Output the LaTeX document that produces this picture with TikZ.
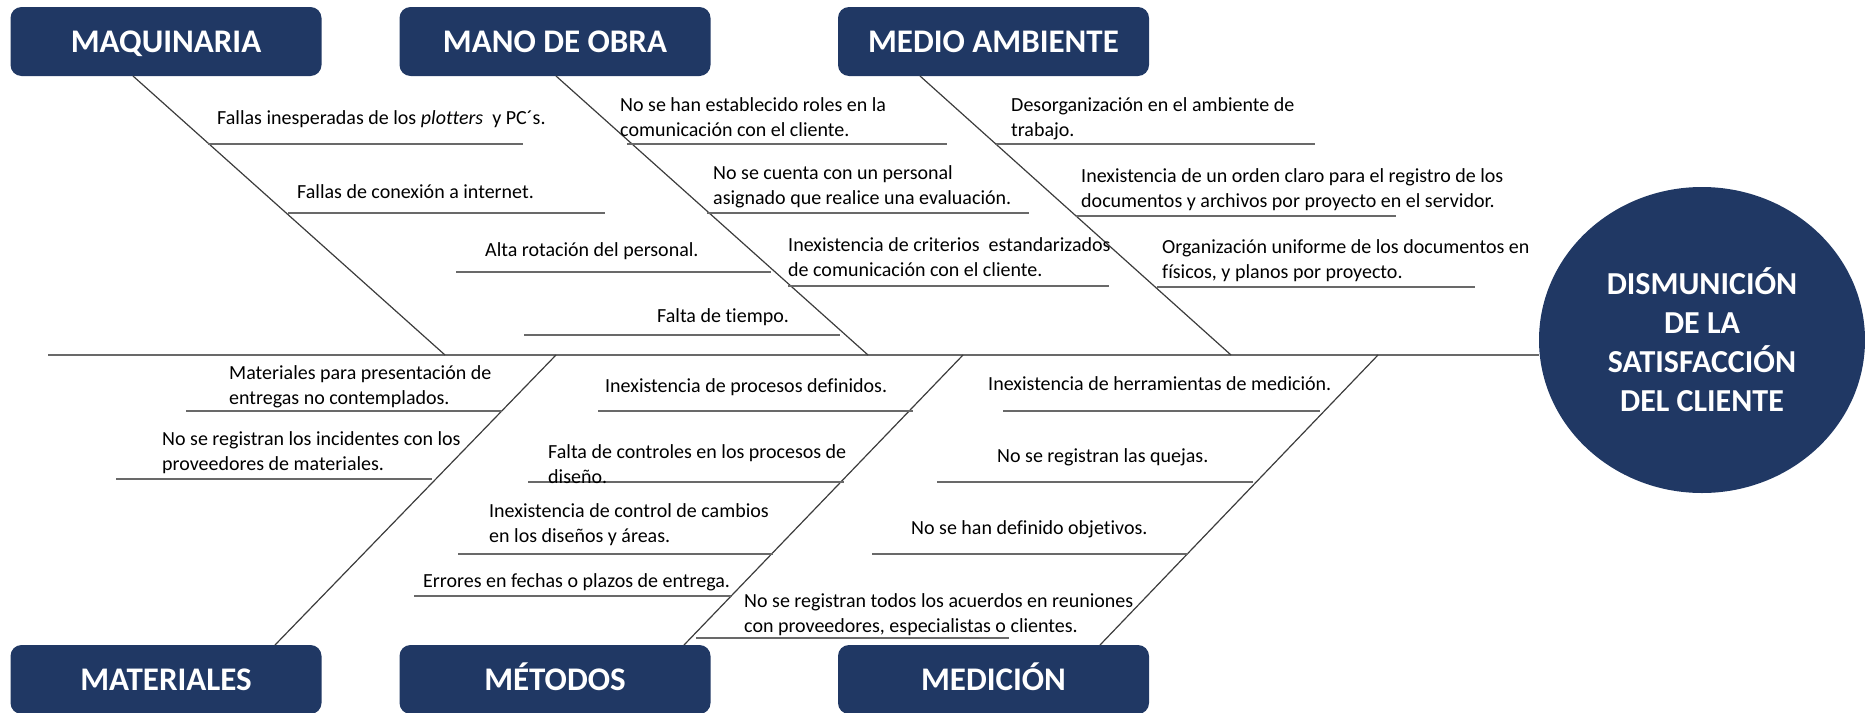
\documentclass[tikz,border=0pt]{standalone}
\usepackage{fontspec}
\setmainfont{Carlito}[Ligatures=NoCommon]
\usepackage{tikz}
\usetikzlibrary{shapes.geometric}
\definecolor{navy}{RGB}{32,56,100}
\definecolor{bonegray}{RGB}{60,60,60}
\definecolor{ribgray}{RGB}{105,105,105}
\tikzstyle{category} = [rectangle, rounded corners=11pt, fill=navy, text=white, minimum width=311pt, minimum height=69pt, inner sep=0pt, text height=21pt, text depth=0pt, font=\fontsize{33}{38}\selectfont\bfseries]
\tikzstyle{effect} = [ellipse, fill=navy, text=white, minimum width=326pt, minimum height=306pt, inner sep=0pt, align=center, font=\fontsize{32}{39}\selectfont\bfseries]
\tikzstyle{cause} = [anchor=west, inner sep=0pt, align=left, font=\fontsize{20}{25}\selectfont]
\tikzstyle{spine} = [line width=2pt, draw=ribgray]
\tikzstyle{bone} = [line width=1.2pt, draw=bonegray]
\tikzstyle{ribline} = [line width=2pt, draw=ribgray]

\begin{document}
\begin{tikzpicture}[x=1pt, y=-1pt]
        \useasboundingbox (0,0) rectangle (1865,712);
        % Categories
        \node[category] (maq) at (166,41.5) {MAQUINARIA};
        \node[category] (mano) at (555,41.5) {MANO DE OBRA};
        \node[category] (medio) at (993.5,41.5) {MEDIO AMBIENTE};
        \node[category] (mat) at (166,679.5) {MATERIALES};
        \node[category] (met) at (555,679.5) {MÉTODOS};
        \node[category] (med) at (993.5,679.5) {MEDICIÓN};
        % Effect
        \node[effect] (efecto) at (1702,340) {DISMUNICIÓN\\DE LA\\SATISFACCIÓN\\DEL CLIENTE};
        % Spine and bones
        \coordinate (cola) at (48,355);
        \coordinate (maqtop) at (133,76);
        \coordinate (manotop) at (556,76);
        \coordinate (mediotop) at (920,76);
        \coordinate (mattop) at (275,645);
        \coordinate (mettop) at (684,645);
        \coordinate (medtop) at (1100,645);
        \coordinate (maqend) at (445,355);
        \coordinate (manoend) at (868,355);
        \coordinate (medioend) at (1231,355);
        \coordinate (matend) at (556,355);
        \coordinate (metend) at (963,355);
        \coordinate (medend) at (1378,355);
        \draw[spine] (cola) -- (cola -| efecto.west);
        \draw[bone] (maqtop) -- (maqend);
        \draw[bone] (manotop) -- (manoend);
        \draw[bone] (mediotop) -- (medioend);
        \draw[bone] (mattop) -- (matend);
        \draw[bone] (mettop) -- (metend);
        \draw[bone] (medtop) -- (medend);
        % Ribs
        \foreach \y/\a/\b in {144/208/523, 213/288/605, 272/456/771, 335/524/840,
                144/627/947, 213/707/1029, 286/788/1109,
                144/996/1315, 216/1076/1396, 287/1157/1475,
                411/186/502, 479/116/432,
                411/598/913, 482/528/844, 554/458/773, 596/414/731, 638/696/1009,
                411/1003/1320, 482/937/1253, 554/872/1188}
            \draw[ribline] (\a,\y) -- (\b,\y);
        % Causes: maquinaria
        \node[cause] (c1) at (217,119) {Fallas inesperadas de los \textit{plotters}\ \ y PC´s.};
        \node[cause] (c2) at (297,192) {Fallas de conexión a internet.};
        \node[cause] (c3) at (485,251) {Alta rotación del personal.};
        \node[cause] (c4) at (657,317) {Falta de tiempo.};
        % Causes: mano de obra
        \node[cause] (c5) at (620,117) {No se han establecido roles en la\\comunicación con el cliente.};
        \node[cause] (c6) at (713,187) {No se cuenta con un personal\\asignado que realice una evaluación.};
        \node[cause] (c7) at (788,257) {Inexistencia de criterios\ \ estandarizados\\de comunicación con el cliente.};
        % Causes: medio ambiente
        \node[cause] (c8) at (1011,119) {Desorganización en el ambiente de\\trabajo.};
        \node[cause] (c9) at (1081,190) {Inexistencia de un orden claro para el registro de los\\documentos y archivos por proyecto en el servidor.};
        \node[cause] (c10) at (1162,261) {Organización uniforme de los documentos en\\físicos, y planos por proyecto.};
        % Causes: materiales
        \node[cause] (c11) at (229,387) {Materiales para presentación de\\entregas no contemplados.};
        \node[cause] (c12) at (162,453) {No se registran los incidentes con los\\proveedores de materiales.};
        % Causes: metodos
        \node[cause] (c13) at (605,387) {Inexistencia de procesos definidos.};
        \node[cause] (c14) at (548,464) {Falta de controles en los procesos de\\diseño.};
        \node[cause] (c15) at (489,525) {Inexistencia de control de cambios\\en los diseños y áreas.};
        \node[cause] (c16) at (423,582) {Errores en fechas o plazos de entrega.};
        \node[cause] (c17) at (744,615) {No se registran todos los acuerdos en reuniones\\con proveedores, especialistas o clientes.};
        % Causes: medicion
        \node[cause] (c18) at (988,384) {Inexistencia de herramientas de medición.};
        \node[cause] (c19) at (997,457) {No se registran las quejas.};
        \node[cause] (c20) at (911,529) {No se han definido objetivos.};
\end{tikzpicture}
\end{document}
